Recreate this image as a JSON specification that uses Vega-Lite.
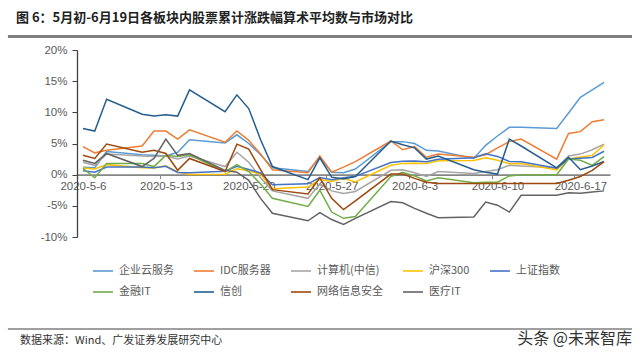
{
"$schema": "https://vega.github.io/schema/vega-lite/v6.json",
"width": 533, "height": 187,
"autosize": {"type": "none"},
"padding": {"left": 77, "top": 50, "right": 30, "bottom": 118},
"background": "white",
"title": {"text": "图 6：5月初-6月19日各板块内股票累计涨跌幅算术平均数与市场对比", "anchor": "start", "frame": "group", "dx": -61, "offset": 10, "font": "Noto Sans CJK SC", "fontSize": 13, "fontWeight": "bold", "color": "#222222"},
"config": {"view": {"stroke": null},
"axis": {"labelOverlap": false, "labelFlush": false, "grid": false, "title": null},
"axisX": {"offset": -62.33, "domainColor": "#868686", "domainWidth": 1.6, "tickColor": "#868686", "tickSize": 4, "tickWidth": 1, "tickOffset": -5.92, "labelOffset": 5.92, "labelPadding": 2, "labelFont": "Liberation Sans", "labelFontSize": 11.5, "labelColor": "#595959", "labelOverlap": false},
"axisY": {"tickCount": 7, "domainColor": "#404040", "domainWidth": 1.3, "tickColor": "#404040", "tickSize": 5, "labelPadding": 5, "labelFont": "Liberation Sans", "labelFontSize": 11.5, "labelColor": "#595959", "labelOverlap": false}
},
"datasets": {
"main": [
{"d":"2020-05-06","s":"企业云服务","v":1.2},{"d":"2020-05-07","s":"企业云服务","v":1.1},{"d":"2020-05-08","s":"企业云服务","v":3.7},{"d":"2020-05-11","s":"企业云服务","v":3.2},{"d":"2020-05-12","s":"企业云服务","v":3.1},{"d":"2020-05-13","s":"企业云服务","v":3.0},{"d":"2020-05-14","s":"企业云服务","v":3.6},{"d":"2020-05-15","s":"企业云服务","v":5.6},{"d":"2020-05-18","s":"企业云服务","v":5.1},{"d":"2020-05-19","s":"企业云服务","v":6.4},{"d":"2020-05-20","s":"企业云服务","v":5.0},{"d":"2020-05-21","s":"企业云服务","v":3.2},{"d":"2020-05-22","s":"企业云服务","v":1.1},{"d":"2020-05-25","s":"企业云服务","v":0.5},{"d":"2020-05-26","s":"企业云服务","v":2.8},{"d":"2020-05-27","s":"企业云服务","v":0.4},{"d":"2020-05-28","s":"企业云服务","v":0.3},{"d":"2020-05-29","s":"企业云服务","v":0.9},{"d":"2020-06-01","s":"企业云服务","v":5.3},{"d":"2020-06-02","s":"企业云服务","v":5.3},{"d":"2020-06-03","s":"企业云服务","v":5.0},{"d":"2020-06-04","s":"企业云服务","v":3.9},{"d":"2020-06-05","s":"企业云服务","v":3.8},{"d":"2020-06-08","s":"企业云服务","v":2.6},{"d":"2020-06-09","s":"企业云服务","v":4.7},{"d":"2020-06-10","s":"企业云服务","v":6.2},{"d":"2020-06-11","s":"企业云服务","v":7.6},{"d":"2020-06-12","s":"企业云服务","v":7.6},{"d":"2020-06-15","s":"企业云服务","v":7.4},{"d":"2020-06-16","s":"企业云服务","v":9.9},{"d":"2020-06-17","s":"企业云服务","v":12.4},{"d":"2020-06-18","s":"企业云服务","v":13.6},{"d":"2020-06-19","s":"企业云服务","v":14.8},
{"d":"2020-05-06","s":"IDC服务器","v":4.5},{"d":"2020-05-07","s":"IDC服务器","v":3.5},{"d":"2020-05-08","s":"IDC服务器","v":3.9},{"d":"2020-05-11","s":"IDC服务器","v":4.6},{"d":"2020-05-12","s":"IDC服务器","v":7.0},{"d":"2020-05-13","s":"IDC服务器","v":7.0},{"d":"2020-05-14","s":"IDC服务器","v":5.7},{"d":"2020-05-15","s":"IDC服务器","v":7.2},{"d":"2020-05-18","s":"IDC服务器","v":5.2},{"d":"2020-05-19","s":"IDC服务器","v":7.0},{"d":"2020-05-20","s":"IDC服务器","v":5.5},{"d":"2020-05-21","s":"IDC服务器","v":3.3},{"d":"2020-05-22","s":"IDC服务器","v":0.8},{"d":"2020-05-25","s":"IDC服务器","v":0.3},{"d":"2020-05-26","s":"IDC服务器","v":3.0},{"d":"2020-05-27","s":"IDC服务器","v":0.4},{"d":"2020-05-28","s":"IDC服务器","v":1.2},{"d":"2020-05-29","s":"IDC服务器","v":2.1},{"d":"2020-06-01","s":"IDC服务器","v":5.4},{"d":"2020-06-02","s":"IDC服务器","v":4.0},{"d":"2020-06-03","s":"IDC服务器","v":4.5},{"d":"2020-06-04","s":"IDC服务器","v":2.8},{"d":"2020-06-05","s":"IDC服务器","v":3.3},{"d":"2020-06-08","s":"IDC服务器","v":2.8},{"d":"2020-06-09","s":"IDC服务器","v":3.2},{"d":"2020-06-10","s":"IDC服务器","v":4.3},{"d":"2020-06-11","s":"IDC服务器","v":5.3},{"d":"2020-06-12","s":"IDC服务器","v":5.7},{"d":"2020-06-15","s":"IDC服务器","v":2.5},{"d":"2020-06-16","s":"IDC服务器","v":6.6},{"d":"2020-06-17","s":"IDC服务器","v":6.9},{"d":"2020-06-18","s":"IDC服务器","v":8.5},{"d":"2020-06-19","s":"IDC服务器","v":8.8},
{"d":"2020-05-06","s":"计算机(中信)","v":2.0},{"d":"2020-05-07","s":"计算机(中信)","v":1.5},{"d":"2020-05-08","s":"计算机(中信)","v":3.3},{"d":"2020-05-11","s":"计算机(中信)","v":3.0},{"d":"2020-05-12","s":"计算机(中信)","v":2.9},{"d":"2020-05-13","s":"计算机(中信)","v":3.0},{"d":"2020-05-14","s":"计算机(中信)","v":2.5},{"d":"2020-05-15","s":"计算机(中信)","v":3.0},{"d":"2020-05-18","s":"计算机(中信)","v":1.3},{"d":"2020-05-19","s":"计算机(中信)","v":3.6},{"d":"2020-05-20","s":"计算机(中信)","v":2.0},{"d":"2020-05-21","s":"计算机(中信)","v":-0.5},{"d":"2020-05-22","s":"计算机(中信)","v":-2.6},{"d":"2020-05-25","s":"计算机(中信)","v":-3.8},{"d":"2020-05-26","s":"计算机(中信)","v":-1.5},{"d":"2020-05-27","s":"计算机(中信)","v":-2.6},{"d":"2020-05-28","s":"计算机(中信)","v":-3.0},{"d":"2020-05-29","s":"计算机(中信)","v":-2.7},{"d":"2020-06-01","s":"计算机(中信)","v":0.7},{"d":"2020-06-02","s":"计算机(中信)","v":0.8},{"d":"2020-06-03","s":"计算机(中信)","v":0.3},{"d":"2020-06-04","s":"计算机(中信)","v":-0.3},{"d":"2020-06-05","s":"计算机(中信)","v":0.5},{"d":"2020-06-08","s":"计算机(中信)","v":0.2},{"d":"2020-06-09","s":"计算机(中信)","v":0.5},{"d":"2020-06-10","s":"计算机(中信)","v":0.8},{"d":"2020-06-11","s":"计算机(中信)","v":1.5},{"d":"2020-06-12","s":"计算机(中信)","v":1.4},{"d":"2020-06-15","s":"计算机(中信)","v":1.1},{"d":"2020-06-16","s":"计算机(中信)","v":3.0},{"d":"2020-06-17","s":"计算机(中信)","v":3.3},{"d":"2020-06-18","s":"计算机(中信)","v":4.0},{"d":"2020-06-19","s":"计算机(中信)","v":4.9},
{"d":"2020-05-06","s":"沪深300","v":1.08},{"d":"2020-05-07","s":"沪深300","v":0.90},{"d":"2020-05-08","s":"沪深300","v":1.61},{"d":"2020-05-11","s":"沪深300","v":1.11},{"d":"2020-05-12","s":"沪深300","v":1.06},{"d":"2020-05-13","s":"沪深300","v":1.41},{"d":"2020-05-14","s":"沪深300","v":0.43},{"d":"2020-05-15","s":"沪深300","v":0.01},{"d":"2020-05-18","s":"沪深300","v":0.08},{"d":"2020-05-19","s":"沪深300","v":0.93},{"d":"2020-05-20","s":"沪深300","v":0.61},{"d":"2020-05-21","s":"沪深300","v":0.05},{"d":"2020-05-22","s":"沪深300","v":-2.26},{"d":"2020-05-25","s":"沪深300","v":-1.99},{"d":"2020-05-26","s":"沪深300","v":-0.77},{"d":"2020-05-27","s":"沪深300","v":-1.08},{"d":"2020-05-28","s":"沪深300","v":-0.58},{"d":"2020-05-29","s":"沪深300","v":-1.17},{"d":"2020-06-01","s":"沪深300","v":1.50},{"d":"2020-06-02","s":"沪深300","v":1.81},{"d":"2020-06-03","s":"沪深300","v":1.84},{"d":"2020-06-04","s":"沪深300","v":1.79},{"d":"2020-06-05","s":"沪深300","v":2.22},{"d":"2020-06-08","s":"沪深300","v":2.28},{"d":"2020-06-09","s":"沪深300","v":2.72},{"d":"2020-06-10","s":"沪深300","v":2.31},{"d":"2020-06-11","s":"沪深300","v":1.77},{"d":"2020-06-12","s":"沪深300","v":1.80},{"d":"2020-06-15","s":"沪深300","v":0.75},{"d":"2020-06-16","s":"沪深300","v":2.53},{"d":"2020-06-17","s":"沪深300","v":2.82},{"d":"2020-06-18","s":"沪深300","v":3.09},{"d":"2020-06-19","s":"沪深300","v":4.76},
{"d":"2020-05-06","s":"上证指数","v":0.63},{"d":"2020-05-07","s":"上证指数","v":0.40},{"d":"2020-05-08","s":"上证指数","v":1.23},{"d":"2020-05-11","s":"上证指数","v":1.21},{"d":"2020-05-12","s":"上证指数","v":1.10},{"d":"2020-05-13","s":"上证指数","v":1.33},{"d":"2020-05-14","s":"上证指数","v":0.36},{"d":"2020-05-15","s":"上证指数","v":0.29},{"d":"2020-05-18","s":"上证指数","v":0.54},{"d":"2020-05-19","s":"上证指数","v":1.35},{"d":"2020-05-20","s":"上证指数","v":0.83},{"d":"2020-05-21","s":"上证指数","v":0.27},{"d":"2020-05-22","s":"上证指数","v":-1.62},{"d":"2020-05-25","s":"上证指数","v":-1.47},{"d":"2020-05-26","s":"上证指数","v":-0.47},{"d":"2020-05-27","s":"上证指数","v":-0.81},{"d":"2020-05-28","s":"上证指数","v":-0.48},{"d":"2020-05-29","s":"上证指数","v":-0.27},{"d":"2020-06-01","s":"上证指数","v":1.94},{"d":"2020-06-02","s":"上证指数","v":2.14},{"d":"2020-06-03","s":"上证指数","v":2.21},{"d":"2020-06-04","s":"上证指数","v":2.07},{"d":"2020-06-05","s":"上证指数","v":2.47},{"d":"2020-06-08","s":"上证指数","v":2.72},{"d":"2020-06-09","s":"上证指数","v":3.36},{"d":"2020-06-10","s":"上证指数","v":2.93},{"d":"2020-06-11","s":"上证指数","v":2.13},{"d":"2020-06-12","s":"上证指数","v":2.09},{"d":"2020-06-15","s":"上证指数","v":1.05},{"d":"2020-06-16","s":"上证指数","v":2.51},{"d":"2020-06-17","s":"上证指数","v":2.65},{"d":"2020-06-18","s":"上证指数","v":2.77},{"d":"2020-06-19","s":"上证指数","v":3.76},
{"d":"2020-05-06","s":"金融IT","v":1.0},{"d":"2020-05-07","s":"金融IT","v":-0.5},{"d":"2020-05-08","s":"金融IT","v":1.8},{"d":"2020-05-11","s":"金融IT","v":1.8},{"d":"2020-05-12","s":"金融IT","v":1.3},{"d":"2020-05-13","s":"金融IT","v":3.1},{"d":"2020-05-14","s":"金融IT","v":2.9},{"d":"2020-05-15","s":"金融IT","v":3.2},{"d":"2020-05-18","s":"金融IT","v":0.5},{"d":"2020-05-19","s":"金融IT","v":1.6},{"d":"2020-05-20","s":"金融IT","v":0.5},{"d":"2020-05-21","s":"金融IT","v":-1.5},{"d":"2020-05-22","s":"金融IT","v":-3.8},{"d":"2020-05-25","s":"金融IT","v":-5.1},{"d":"2020-05-26","s":"金融IT","v":-2.5},{"d":"2020-05-27","s":"金融IT","v":-6.0},{"d":"2020-05-28","s":"金融IT","v":-7.0},{"d":"2020-05-29","s":"金融IT","v":-6.7},{"d":"2020-06-01","s":"金融IT","v":-0.3},{"d":"2020-06-02","s":"金融IT","v":0.4},{"d":"2020-06-03","s":"金融IT","v":-0.2},{"d":"2020-06-04","s":"金融IT","v":-1.0},{"d":"2020-06-05","s":"金融IT","v":-0.5},{"d":"2020-06-08","s":"金融IT","v":-1.3},{"d":"2020-06-09","s":"金融IT","v":-1.2},{"d":"2020-06-10","s":"金融IT","v":-1.2},{"d":"2020-06-11","s":"金融IT","v":-0.2},{"d":"2020-06-12","s":"金融IT","v":0.0},{"d":"2020-06-15","s":"金融IT","v":0.0},{"d":"2020-06-16","s":"金融IT","v":2.5},{"d":"2020-06-17","s":"金融IT","v":2.3},{"d":"2020-06-18","s":"金融IT","v":1.5},{"d":"2020-06-19","s":"金融IT","v":2.9},
{"d":"2020-05-06","s":"信创","v":7.4},{"d":"2020-05-07","s":"信创","v":7.0},{"d":"2020-05-08","s":"信创","v":12.1},{"d":"2020-05-11","s":"信创","v":9.7},{"d":"2020-05-12","s":"信创","v":9.4},{"d":"2020-05-13","s":"信创","v":9.6},{"d":"2020-05-14","s":"信创","v":9.4},{"d":"2020-05-15","s":"信创","v":13.6},{"d":"2020-05-18","s":"信创","v":10.1},{"d":"2020-05-19","s":"信创","v":12.8},{"d":"2020-05-20","s":"信创","v":10.6},{"d":"2020-05-21","s":"信创","v":5.6},{"d":"2020-05-22","s":"信创","v":1.3},{"d":"2020-05-25","s":"信创","v":-0.8},{"d":"2020-05-26","s":"信创","v":2.7},{"d":"2020-05-27","s":"信创","v":-0.4},{"d":"2020-05-28","s":"信创","v":-0.7},{"d":"2020-05-29","s":"信创","v":-0.3},{"d":"2020-06-01","s":"信创","v":5.4},{"d":"2020-06-02","s":"信创","v":4.8},{"d":"2020-06-03","s":"信创","v":4.3},{"d":"2020-06-04","s":"信创","v":2.5},{"d":"2020-06-05","s":"信创","v":3.0},{"d":"2020-06-08","s":"信创","v":0.8},{"d":"2020-06-09","s":"信创","v":0.4},{"d":"2020-06-10","s":"信创","v":0.1},{"d":"2020-06-11","s":"信创","v":5.7},{"d":"2020-06-12","s":"信创","v":4.6},{"d":"2020-06-15","s":"信创","v":1.1},{"d":"2020-06-16","s":"信创","v":2.8},{"d":"2020-06-17","s":"信创","v":0.8},{"d":"2020-06-18","s":"信创","v":1.4},{"d":"2020-06-19","s":"信创","v":2.1},
{"d":"2020-05-06","s":"网络信息安全","v":3.1},{"d":"2020-05-07","s":"网络信息安全","v":2.6},{"d":"2020-05-08","s":"网络信息安全","v":4.9},{"d":"2020-05-11","s":"网络信息安全","v":3.6},{"d":"2020-05-12","s":"网络信息安全","v":3.9},{"d":"2020-05-13","s":"网络信息安全","v":3.4},{"d":"2020-05-14","s":"网络信息安全","v":0.7},{"d":"2020-05-15","s":"网络信息安全","v":2.6},{"d":"2020-05-18","s":"网络信息安全","v":0.5},{"d":"2020-05-19","s":"网络信息安全","v":4.9},{"d":"2020-05-20","s":"网络信息安全","v":4.1},{"d":"2020-05-21","s":"网络信息安全","v":0.8},{"d":"2020-05-22","s":"网络信息安全","v":-2.4},{"d":"2020-05-25","s":"网络信息安全","v":-3.1},{"d":"2020-05-26","s":"网络信息安全","v":-0.5},{"d":"2020-05-27","s":"网络信息安全","v":-3.8},{"d":"2020-05-28","s":"网络信息安全","v":-5.6},{"d":"2020-05-29","s":"网络信息安全","v":-4.2},{"d":"2020-06-01","s":"网络信息安全","v":0.1},{"d":"2020-06-02","s":"网络信息安全","v":0.1},{"d":"2020-06-03","s":"网络信息安全","v":-0.6},{"d":"2020-06-04","s":"网络信息安全","v":-1.2},{"d":"2020-06-05","s":"网络信息安全","v":-1.4},{"d":"2020-06-08","s":"网络信息安全","v":-1.4},{"d":"2020-06-09","s":"网络信息安全","v":-1.4},{"d":"2020-06-10","s":"网络信息安全","v":-1.4},{"d":"2020-06-11","s":"网络信息安全","v":-1.4},{"d":"2020-06-12","s":"网络信息安全","v":-1.4},{"d":"2020-06-15","s":"网络信息安全","v":-1.4},{"d":"2020-06-16","s":"网络信息安全","v":-0.9},{"d":"2020-06-17","s":"网络信息安全","v":-0.3},{"d":"2020-06-18","s":"网络信息安全","v":0.7},{"d":"2020-06-19","s":"网络信息安全","v":2.1},
{"d":"2020-05-06","s":"医疗IT","v":2.3},{"d":"2020-05-07","s":"医疗IT","v":1.8},{"d":"2020-05-08","s":"医疗IT","v":3.4},{"d":"2020-05-11","s":"医疗IT","v":1.3},{"d":"2020-05-12","s":"医疗IT","v":2.6},{"d":"2020-05-13","s":"医疗IT","v":5.7},{"d":"2020-05-14","s":"医疗IT","v":3.1},{"d":"2020-05-15","s":"医疗IT","v":3.4},{"d":"2020-05-18","s":"医疗IT","v":0.7},{"d":"2020-05-19","s":"医疗IT","v":0.4},{"d":"2020-05-20","s":"医疗IT","v":-0.9},{"d":"2020-05-21","s":"医疗IT","v":-3.8},{"d":"2020-05-22","s":"医疗IT","v":-6.2},{"d":"2020-05-25","s":"医疗IT","v":-7.4},{"d":"2020-05-26","s":"医疗IT","v":-6.1},{"d":"2020-05-27","s":"医疗IT","v":-7.2},{"d":"2020-05-28","s":"医疗IT","v":-8.0},{"d":"2020-05-29","s":"医疗IT","v":-7.0},{"d":"2020-06-01","s":"医疗IT","v":-4.3},{"d":"2020-06-02","s":"医疗IT","v":-4.5},{"d":"2020-06-03","s":"医疗IT","v":-5.4},{"d":"2020-06-04","s":"医疗IT","v":-6.2},{"d":"2020-06-05","s":"医疗IT","v":-6.9},{"d":"2020-06-08","s":"医疗IT","v":-6.8},{"d":"2020-06-09","s":"医疗IT","v":-4.4},{"d":"2020-06-10","s":"医疗IT","v":-4.9},{"d":"2020-06-11","s":"医疗IT","v":-6.0},{"d":"2020-06-12","s":"医疗IT","v":-3.3},{"d":"2020-06-15","s":"医疗IT","v":-3.3},{"d":"2020-06-16","s":"医疗IT","v":-2.9},{"d":"2020-06-17","s":"医疗IT","v":-3.0},{"d":"2020-06-18","s":"医疗IT","v":-2.8},{"d":"2020-06-19","s":"医疗IT","v":-2.6}
],
"one": [{"k": 1}]
},
"layer": [
{
"data": {"name": "main"},
"mark": {"type": "line", "strokeWidth": 1.5},
"encoding": {
"x": {"field": "d", "type": "temporal",
"scale": {"type": "utc", "domain": [{"year": 2020, "month": 5, "date": 5, "hours": 12, "utc": true}, {"year": 2020, "month": 6, "date": 19, "hours": 12, "utc": true}]},
"axis": {"values": [{"year": 2020, "month": 5, "date": 6, "utc": true}, {"year": 2020, "month": 5, "date": 13, "utc": true}, {"year": 2020, "month": 5, "date": 20, "utc": true}, {"year": 2020, "month": 5, "date": 27, "utc": true}, {"year": 2020, "month": 6, "date": 3, "utc": true}, {"year": 2020, "month": 6, "date": 10, "utc": true}, {"year": 2020, "month": 6, "date": 17, "utc": true}],
"format": "%Y-%-m-%-d", "title": null, "labelOverlap": false}},
"y": {"field": "v", "type": "quantitative",
"scale": {"domain": [-10, 20], "nice": false, "zero": false},
"axis": {"values": [-10, -5, 0, 5, 10, 15, 20], "tickCount": 7, "labelExpr": "datum.value + '%'", "title": null, "labelOverlap": false}},
"color": {"field": "s", "type": "nominal",
"scale": {"domain": ["企业云服务", "IDC服务器", "计算机(中信)", "沪深300", "上证指数", "金融IT", "信创", "网络信息安全", "医疗IT"],
"range": ["#5B9BD5", "#ED7D31", "#A5A5A5", "#FFC000", "#4472C4", "#70AD47", "#255E91", "#9E480E", "#636363"]},
"legend": {"title": null, "orient": "none", "legendX": 15, "legendY": 210, "direction": "horizontal", "columns": 5, "gridAlign": "each", "columnPadding": 16, "rowPadding": 5, "padding": 0,
"symbolType": "stroke", "symbolSize": 400, "symbolStrokeWidth": 1.6, "labelOffset": 5,
"labelFont": "Noto Sans CJK SC", "labelFontSize": 11, "labelColor": "#595959", "labelLimit": 200}}
}
},
{
"data": {"name": "one"},
"mark": {"type": "rule", "color": "#7F7F7F", "strokeWidth": 3},
"encoding": {
"x": {"datum": {"year": 2020, "month": 4, "date": 29, "hours": 16, "utc": true}, "type": "temporal"},
"x2": {"datum": {"year": 2020, "month": 6, "date": 21, "hours": 8, "minutes": 34, "utc": true}},
"y": {"datum": 22.17, "type": "quantitative", "axis": {"values": [-10, -5, 0, 5, 10, 15, 20], "tickCount": 7}}
}
},
{
"data": {"name": "one"},
"mark": {"type": "rule", "color": "#404040", "strokeWidth": 1},
"encoding": {
"x": {"datum": {"year": 2020, "month": 4, "date": 29, "hours": 16, "utc": true}, "type": "temporal"},
"x2": {"datum": {"year": 2020, "month": 6, "date": 21, "hours": 8, "minutes": 34, "utc": true}},
"y": {"datum": -24.76, "type": "quantitative", "axis": {"values": [-10, -5, 0, 5, 10, 15, 20], "tickCount": 7}}
}
},
{
"data": {"name": "one"},
"mark": {"type": "text", "align": "left", "baseline": "middle", "font": "Noto Sans CJK SC", "fontSize": 11, "color": "#333333"},
"encoding": {
"x": {"datum": {"year": 2020, "month": 4, "date": 30, "hours": 16, "minutes": 30, "utc": true}, "type": "temporal"},
"y": {"datum": -26.68, "type": "quantitative", "axis": {"values": [-10, -5, 0, 5, 10, 15, 20], "tickCount": 7}},
"text": {"value": "数据来源：Wind、广发证券发展研究中心"}
}
},
{
"data": {"name": "one"},
"mark": {"type": "text", "align": "right", "baseline": "middle", "font": "Noto Sans CJK SC", "fontSize": 16, "color": "#333333"},
"encoding": {
"x": {"datum": {"year": 2020, "month": 6, "date": 21, "hours": 8, "minutes": 34, "utc": true}, "type": "temporal"},
"y": {"datum": -26.36, "type": "quantitative", "axis": {"values": [-10, -5, 0, 5, 10, 15, 20], "tickCount": 7}},
"text": {"value": "头条 @未来智库"}
}
}
]
}
